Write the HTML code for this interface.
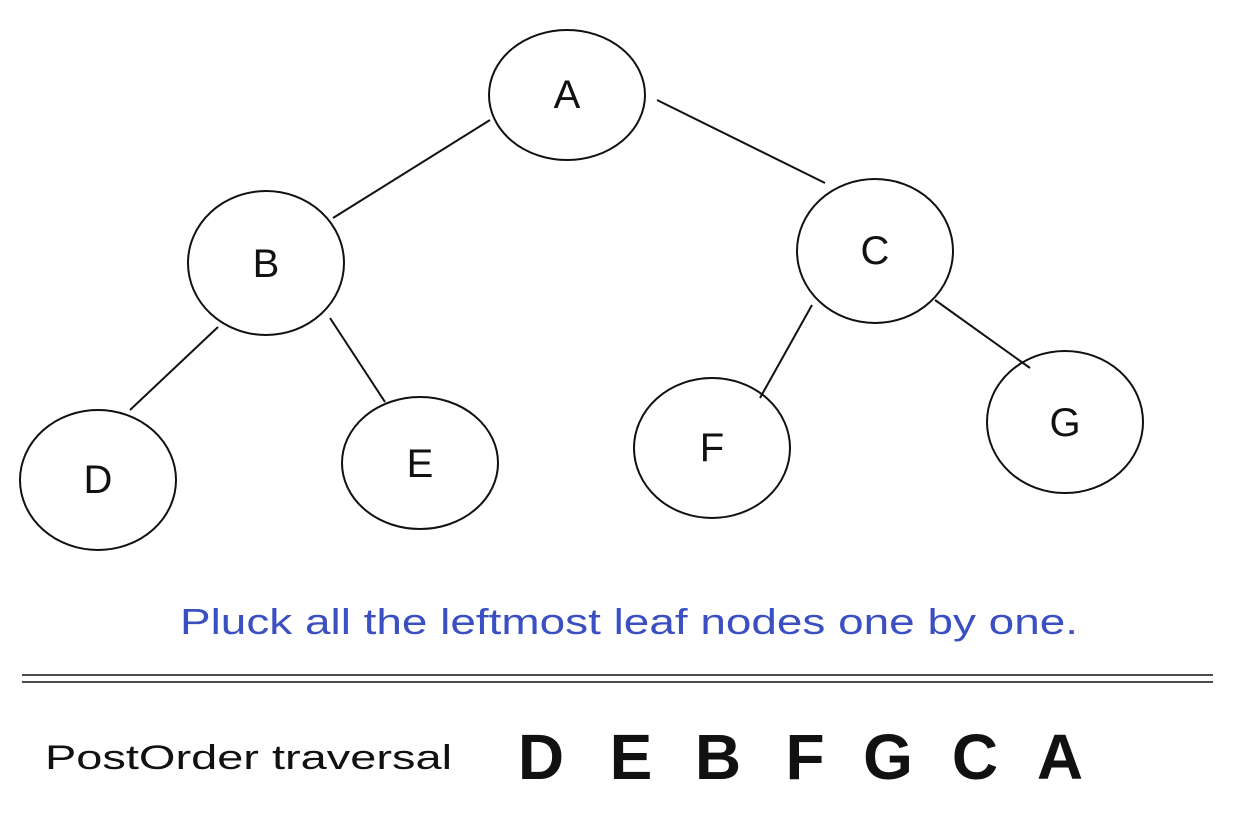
<!DOCTYPE html>
<html><head><meta charset="utf-8"><style>html,body{margin:0;padding:0;background:#fff}svg{display:block}</style></head>
<body>
<svg width="1234" height="825" viewBox="0 0 1234 825" xmlns="http://www.w3.org/2000/svg">
<g fill="none" stroke="#111" stroke-width="2">
<ellipse cx="567" cy="95" rx="78" ry="65"/>
<ellipse cx="266" cy="263" rx="78" ry="72"/>
<ellipse cx="875" cy="251" rx="78" ry="72"/>
<ellipse cx="98" cy="480" rx="78" ry="70"/>
<ellipse cx="420" cy="463" rx="78" ry="66"/>
<ellipse cx="712" cy="448" rx="78" ry="70"/>
<ellipse cx="1065" cy="422" rx="78" ry="71"/>
<line x1="490" y1="120" x2="333" y2="218"/>
<line x1="657" y1="100" x2="825" y2="183"/>
<line x1="218" y1="327" x2="130" y2="410"/>
<line x1="330" y1="318" x2="385" y2="402"/>
<line x1="812" y1="305" x2="760" y2="398"/>
<line x1="935" y1="300" x2="1030" y2="368"/>
<line x1="22" y1="675" x2="1213" y2="675" stroke-width="1.5"/>
<line x1="22" y1="682" x2="1213" y2="682" stroke-width="1.5"/>
</g>
<g font-family="Liberation Sans, sans-serif" font-size="40" text-anchor="middle" fill="#111">
<text x="567" y="108">A</text>
<text x="266" y="277">B</text>
<text x="875" y="264">C</text>
<text x="98" y="493">D</text>
<text x="420" y="477">E</text>
<text x="712" y="461">F</text>
<text x="1065" y="436">G</text>
</g>
<text x="180" y="634" font-family="Liberation Sans, sans-serif" font-size="36" fill="#3a4fc2" textLength="898" lengthAdjust="spacingAndGlyphs">Pluck all the leftmost leaf nodes one by one.</text>
<text x="45" y="769" font-family="Liberation Sans, sans-serif" font-size="34" fill="#111" textLength="407" lengthAdjust="spacingAndGlyphs">PostOrder traversal</text>
<g font-family="Liberation Sans, sans-serif" font-size="64" font-weight="bold" fill="#111" text-anchor="middle">
<text x="541" y="779">D</text>
<text x="631" y="779">E</text>
<text x="718" y="779">B</text>
<text x="805" y="779">F</text>
<text x="888" y="779">G</text>
<text x="975" y="779">C</text>
<text x="1060" y="779">A</text>
</g>
</svg>
</body></html>
